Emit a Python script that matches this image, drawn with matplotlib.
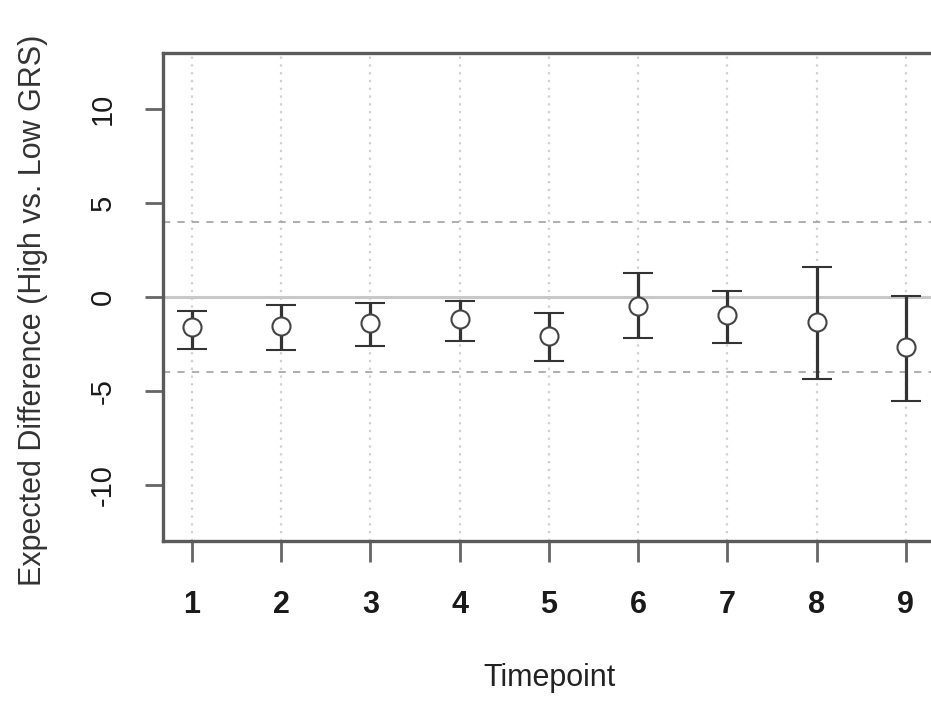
import matplotlib
matplotlib.use('Agg')
import matplotlib.pyplot as plt

plt.rcParams['font.family'] = ['Liberation Sans', 'DejaVu Sans']
plt.rcParams['axes.unicode_minus'] = False

timepoints = [1, 2, 3, 4, 5, 6, 7, 8, 9]
estimate = [-1.60, -1.53, -1.38, -1.17, -2.07, -0.48, -0.96, -1.33, -2.66]
upper = [-0.74, -0.43, -0.32, -0.21, -0.85, 1.28, 0.32, 1.60, 0.05]
lower = [-2.77, -2.80, -2.60, -2.34, -3.40, -2.18, -2.45, -4.36, -5.53]
y_ticks = [-10, -5, 0, 5, 10]
bounds = [-4, 4]

fig = plt.figure(figsize=(9.31, 7.02), dpi=100)
ax = fig.add_axes([0.175, 0.2293, 0.829, 0.6952])

ax.set_xlim(0.675, 9.325)
ax.set_ylim(-13, 13)

# dotted vertical guides at each timepoint
for t in timepoints:
    ax.axvline(t, color='#d0d0d0', lw=1.6, ls=(0, (1, 2.5)), zorder=0)

ax.axhline(0, color='#c8c8c8', lw=2.2, zorder=1)
for b in bounds:
    ax.axhline(b, color='#a8a8a8', lw=1.3, ls=(0, (4, 4)), zorder=1)

err_lo = [e - l for e, l in zip(estimate, lower)]
err_hi = [u - e for u, e in zip(upper, estimate)]
ax.errorbar(timepoints, estimate, yerr=[err_lo, err_hi], fmt='o',
            mfc='white', mec='#444444', mew=1.5, ms=13,
            ecolor='#333333', elinewidth=2.3, capsize=11, capthick=2.6,
            zorder=3)

for s in ['left', 'top', 'bottom', 'right']:
    ax.spines[s].set_color('#5a5a5a')
    ax.spines[s].set_linewidth(2.4)

ax.set_xticks(timepoints)
ax.set_xticklabels([str(t) for t in timepoints], fontweight='bold')
ax.set_yticks(y_ticks)
ax.tick_params(axis='both', colors='#666666', width=2, labelcolor='#1a1a1a',
               labelsize=21)
ax.tick_params(axis='x', length=15, pad=20, labelsize=22)
ax.tick_params(axis='y', length=13, pad=20, labelrotation=90)
for lab in ax.get_yticklabels():
    lab.set_va('center')

fig.text(33 / 931, 1 - 310 / 702, 'Expected Difference (High vs. Low GRS)',
         rotation=90, ha='center', va='center', fontsize=22, color='#333333')
fig.text(550 / 931, 1 - 678 / 702, 'Timepoint',
         ha='center', va='center', fontsize=22, color='#222222')

fig.savefig('out.png', dpi=100)
